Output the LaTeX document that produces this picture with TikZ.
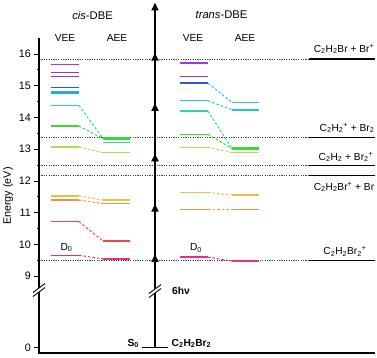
\documentclass[tikz,border=0pt]{standalone}
\usepackage{fontspec}
\setmainfont{Liberation Sans}
\newcommand{\sbs}[1]{\textsubscript{#1}}
\newcommand{\sps}[1]{\textsuperscript{#1}}
\definecolor{cPurA}{HTML}{A23BD6}
\definecolor{cPurB}{HTML}{9A35CF}
\definecolor{cPurC}{HTML}{7A3FE0}
\definecolor{cBlue}{HTML}{2A55E0}
\definecolor{cCyanB}{HTML}{20AEE0}
\definecolor{cLBlue}{HTML}{30B8F0}
\definecolor{cCyan}{HTML}{22C8D0}
\definecolor{cTeal}{HTML}{2AD6A8}
\definecolor{cGreen}{HTML}{33DD33}
\definecolor{cLime}{HTML}{A8E050}
\definecolor{cYel}{HTML}{EEBB44}
\definecolor{cOra}{HTML}{F2904A}
\definecolor{cRed}{HTML}{EE4444}
\definecolor{cPink}{HTML}{EE2A8A}
\newcommand{\lvl}[6][]{%
  \coordinate (#2-l) at (#3,{562-31.75*#5});
  \coordinate (#2-r) at (#4,{562-31.75*#5});
  \draw[level,draw=#6,#1] (#2-l) -- (#2-r);}
\begin{document}
\begin{tikzpicture}[x=1pt,y=-1pt,
  font=\fontsize{10.2}{12}\selectfont,
  level/.style={line width=1.5pt},
  conn/.style={line width=1pt,dash pattern=on 2.5pt off 2pt},
  refdot/.style={line width=0.8pt,black!75,dash pattern=on 1.2pt off 1.2pt},
  refsolid/.style={line width=1.3pt,black},
  axisline/.style={line width=1.1pt,black},
  tri/.style={fill=black},
  lab/.style={inner sep=0pt},
  bold/.style={inner sep=0pt,font=\fontsize{10.2}{12}\selectfont\bfseries}]
\useasboundingbox (0,0) rectangle (377,357);

% reference (dotted) lines
\foreach \n/\py in {a/59.1,b/137.2,c/165.8,d/175.6,e/260.7}{
  \coordinate (d\n-l) at (39,\py);
  \coordinate (d\n-r) at (309,\py);
  \coordinate (d\n-e) at (375,\py);
  \draw[refdot] (d\n-l) -- (d\n-r);
  \draw[refsolid] (d\n-r) -- (d\n-e);
}

% axes
\coordinate (ax-top) at (39,38);
\coordinate (ax-org) at (39,353);
\coordinate (ax-end) at (375,353);
\draw[axisline] (ax-top) -- (ax-org) -- (ax-end);
\foreach \e in {9,...,16}{
  \coordinate (tk\e) at (39,{562-31.75*\e});
  \draw[axisline,line width=0.9pt] (tk\e) -- ++(-5,0);
  \node[lab,anchor=east] (tl\e) at ([xshift=-8pt]tk\e) {\fontsize{10.8}{12}\selectfont\e};
}
\foreach \e in {9.5,10.5,11.5,12.5,13.5,14.5,15.5}{
  \draw[axisline,line width=0.9pt] (39,{562-31.75*\e}) -- ++(-2.5,0);
}
\coordinate (tk0) at (39,347.7);
\draw[axisline,line width=0.9pt] (tk0) -- ++(-5,0);
\node[lab,anchor=east] (tl0) at ([xshift=-8pt]tk0) {\fontsize{10.8}{12}\selectfont 0};
% axis break
\fill[white] (33,292) -- (45,283) -- (45,287.5) -- (33,296.5) -- cycle;
\draw[line width=0.9pt] (33,292.5) -- (45,283.5);
\draw[line width=0.9pt] (33,296.5) -- (45,287.5);
\node[lab,rotate=90] (ylab) at (8,196) {\fontsize{10.8}{12}\selectfont Energy (eV)};

% central photon arrow
\coordinate (s0) at (155,347.7);
\coordinate (ar-top) at (155,4);
\draw[line width=1.1pt] (s0) -- (ar-top);
\foreach \e in {9.45,11.035,12.62,14.205,15.79,17.375}{
  \fill[tri] (151.2,{562-31.75*\e}) -- (158.8,{562-31.75*\e}) -- (155,{562-31.75*\e-7.5}) -- cycle;
}
\fill[white] (149,293) -- (161,284) -- (161,288.5) -- (149,297.5) -- cycle;
\draw[line width=0.9pt] (149,293.5) -- (161,284.5);
\draw[line width=0.9pt] (149,297.5) -- (161,288.5);
\coordinate (s0-l) at (142,347.7);
\coordinate (s0-r) at (168,347.7);
\draw[refsolid] (s0-l) -- (s0-r);
\node[bold,anchor=east] (s0lab) at (139,343.5) {S\sbs{0}};
\node[bold,anchor=west] (mol) at (171.5,343.5) {C\sbs{2}H\sbs{2}Br\sbs{2}};
\node[bold,anchor=west] (hv) at (172,290.5) {6hν};

% headers
\node[lab,font=\fontsize{11.2}{13}\selectfont] (cis) at (92.5,15) {\textit{cis}-DBE};
\node[lab,font=\fontsize{11.2}{13}\selectfont] (trans) at (221.5,15) {\textit{trans}-DBE};
\node[lab] (cvee) at (65,37.5) {VEE};
\node[lab] (caee) at (117,37.5) {AEE};
\node[lab] (tvee) at (193,37.5) {VEE};
\node[lab] (taee) at (245,37.5) {AEE};

% cis levels
\lvl{cv1}{51}{79}{15.663}{cPurA}
\lvl{cv2}{51}{79}{15.42}{cPurB}
\lvl{cv3}{51}{79}{15.285}{cPurC}
\lvl{cv4}{51}{79}{14.95}{cBlue}
\lvl[line width=2.8pt]{cv5}{51}{79}{14.80}{cCyanB}
\lvl{cv6}{51}{79}{14.38}{cTeal}
\lvl{cv7}{51}{79}{13.73}{cGreen}
\lvl{cv8}{51}{79}{13.07}{cLime}
\lvl{cv9}{51}{79}{11.53}{cYel}
\lvl{cv10}{51}{79}{11.40}{cOra}
\lvl{cv11}{51}{79}{10.72}{cRed}
\lvl{cv12}{51}{79}{9.66}{cPink}
\lvl[line width=2.4pt]{ca1}{103}{130}{13.34}{cGreen}
\lvl{ca2}{103}{130}{13.22}{cTeal}
\lvl{ca3}{103}{130}{12.89}{cLime}
\lvl{ca4}{103}{130}{11.40}{cYel}
\lvl{ca5}{103}{130}{11.29}{cOra}
\lvl{ca6}{103}{130}{10.11}{cRed}
\lvl{ca7}{103}{130}{9.55}{cPink}
\draw[conn,cTeal] (cv6-r) -- (ca1-l);
\draw[conn,cGreen] (cv7-r) -- (ca1-l);
\draw[conn,cLime] (cv8-r) -- (ca3-l);
\draw[conn,cYel] (cv9-r) -- (ca4-l);
\draw[conn,cOra] (cv10-r) -- (ca5-l);
\draw[conn,cRed] (cv11-r) -- (ca6-l);
\draw[conn,cPink] (cv12-r) -- (ca7-l);
\node[lab] (cd0) at (66.5,247.5) {D\sbs{0}};

% trans levels
\lvl{tv1}{180}{208}{15.71}{cPurA}
\lvl{tv2}{180}{208}{15.285}{cPurB}
\lvl[line width=2.6pt]{tv3b}{180}{208}{15.09}{cLBlue!60}
\lvl{tv3}{180}{208}{15.08}{cBlue}
\lvl{tv4}{180}{208}{14.53}{cCyan}
\lvl{tv5}{180}{208}{14.20}{cTeal}
\lvl{tv6}{180}{208}{13.47}{cGreen}
\lvl{tv7}{180}{208}{13.06}{cLime}
\lvl{tv8}{180}{208}{11.64}{cYel}
\lvl{tv9}{180}{208}{11.10}{cOra}
\lvl{tv10}{180}{208}{9.60}{cPink}
\lvl{ta1}{232}{259}{14.48}{cLBlue}
\lvl{ta2}{232}{259}{14.24}{cCyan}
\lvl[line width=2.4pt]{ta3}{232}{259}{13.02}{cGreen}
\lvl{ta4}{232}{259}{12.90}{cLime}
\lvl{ta5}{232}{259}{11.56}{cYel}
\lvl{ta6}{232}{259}{11.10}{cOra}
\lvl{ta7}{232}{259}{9.48}{cPink}
\draw[conn,cLBlue] (tv3-r) -- (ta1-l);
\draw[conn,cCyan] (tv4-r) -- (ta2-l);
\draw[conn,cTeal] (tv5-r) -- (ta3-l);
\draw[conn,cGreen] (tv6-r) -- (ta3-l);
\draw[conn,cLime] (tv7-r) -- (ta4-l);
\draw[conn,cYel] (tv8-r) -- (ta5-l);
\draw[conn,cOra] (tv9-r) -- (ta6-l);
\draw[conn,cPink] (tv10-r) -- (ta7-l);
\node[lab] (td0) at (196,248) {D\sbs{0}};

% asymptote labels
\node[lab] (la) at (344,49) {C\sbs{2}H\sbs{2}Br + Br\sps{+}};
\node[lab] (lb) at (347,128) {C\sbs{2}H\sbs{2}\sps{+} + Br\sbs{2}};
\node[lab] (lc) at (346,157) {C\sbs{2}H\sbs{2} + Br\sbs{2}\sps{+}};
\node[lab] (ld) at (344,187) {C\sbs{2}H\sbs{2}Br\sps{+} + Br};
\node[lab] (le) at (345,251.5) {C\sbs{2}H\sbs{2}Br\sbs{2}\sps{+}};
\end{tikzpicture}
\end{document}
